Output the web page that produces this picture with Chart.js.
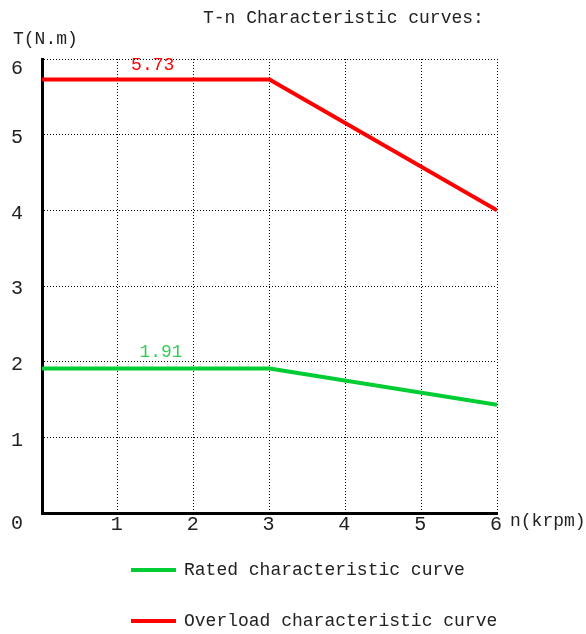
<!DOCTYPE html>
<html>
<head>
<meta charset="utf-8">
<script src="https://cdn.jsdelivr.net/npm/chart.js@4.4.0/dist/chart.umd.min.js"></script>
<style>
  html, body { margin: 0; padding: 0; background: #fff; }
  #wrap { width: 586px; height: 634px; position: relative; }
</style>
</head>
<body>
<div id="wrap"><canvas id="myChart" width="586" height="634"></canvas></div>
<script>
// T-n curve data
const speeds     = [0, 3, 6];            // n (krpm)
const ratedTorque    = [1.91, 1.91, 1.43];   // T (N.m)
const overloadTorque = [5.73, 5.73, 4.0];
const xTicks = [1, 2, 3, 4, 5, 6];
const yTicks = [0, 1, 2, 3, 4, 5, 6];
const seriesNames = ['Rated characteristic curve', 'Overload characteristic curve'];

const FONT = '"Liberation Mono", "DejaVu Sans Mono", monospace';
const GREEN = '#00cc33';
const RED = '#ff0000';

function toPoints(xs, ys){
    let pts = [];
    for(let i = 0; i < xs.length; i += 1){
        pts.push({x: xs[i], y: ys[i]});
    }
    return pts;
}

// draws texts, tick labels and legend on top of the chart
const decorations = {
    id: 'decorations',
    afterDraw(chart){
        const ctx = chart.ctx;
        const xs = chart.scales.x;
        const ys = chart.scales.y;
        ctx.save();
        ctx.fillStyle = '#222';
        ctx.textBaseline = 'middle';

        // title and axis names
        ctx.font = '18px ' + FONT;
        ctx.textAlign = 'left';
        ctx.fillText('T-n Characteristic curves:', 203, 18);
        ctx.fillText('T(N.m)', 13, 39);
        ctx.fillText('n(krpm)', 510, 521);

        // tick labels
        ctx.font = '20px ' + FONT;
        ctx.textAlign = 'center';
        yTicks.forEach(function(v){
            let off = 3;
            if (v === 6) off = 10;
            if (v === 0) off = 11;
            ctx.fillText(String(v), 17, ys.getPixelForValue(v) + off);
        });
        xTicks.forEach(function(v){
            ctx.fillText(String(v), xs.getPixelForValue(v) - 1, 525);
        });

        // value labels
        ctx.font = '18px ' + FONT;
        ctx.fillStyle = RED;
        ctx.fillText(overloadTorque[0].toFixed(2), xs.getPixelForValue(1.46), ys.getPixelForValue(overloadTorque[0]) - 14);
        ctx.fillStyle = '#33cc55';
        ctx.fillText(ratedTorque[0].toFixed(2), xs.getPixelForValue(1.57), ys.getPixelForValue(ratedTorque[0]) - 16);

        // legend
        const items = [[seriesNames[0], GREEN, 570], [seriesNames[1], RED, 621]];
        ctx.textAlign = 'left';
        ctx.lineWidth = 4;
        items.forEach(function(it){
            ctx.strokeStyle = it[1];
            ctx.beginPath();
            ctx.moveTo(131, it[2]);
            ctx.lineTo(176, it[2]);
            ctx.stroke();
            ctx.fillStyle = '#222';
            ctx.fillText(it[0], 184, it[2]);
        });
        ctx.restore();
    }
};

const ctx = document.getElementById('myChart').getContext('2d');
const myChart = new Chart(ctx, {
    type: 'line',
    data: {
        datasets: [{
            label: seriesNames[0],
            data: toPoints(speeds, ratedTorque),
            borderColor: GREEN,
            borderWidth: 4,
            pointRadius: 0,
            fill: false
        }, {
            label: seriesNames[1],
            data: toPoints(speeds, overloadTorque),
            borderColor: RED,
            borderWidth: 4,
            pointRadius: 0,
            fill: false
        }]
    },
    options: {
        responsive: false,
        animation: false,
        layout: { padding: { left: 42, right: 89, top: 59, bottom: 121 } },
        plugins: {
            legend: { display: false },
            tooltip: { enabled: false }
        },
        scales: {
            x: {
                type: 'linear',
                min: 0, max: 6,
                ticks: { display: false, stepSize: 1 },
                grid: { color: '#000', lineWidth: 1, drawTicks: false },
                border: { color: '#000', width: 3, dash: [1, 2] }
            },
            y: {
                type: 'linear',
                min: 0, max: 6,
                ticks: { display: false, stepSize: 1 },
                grid: { color: '#000', lineWidth: 1, drawTicks: false },
                border: { color: '#000', width: 3, dash: [1, 2] }
            }
        }
    },
    plugins: [decorations]
});
</script>
</body>
</html>
